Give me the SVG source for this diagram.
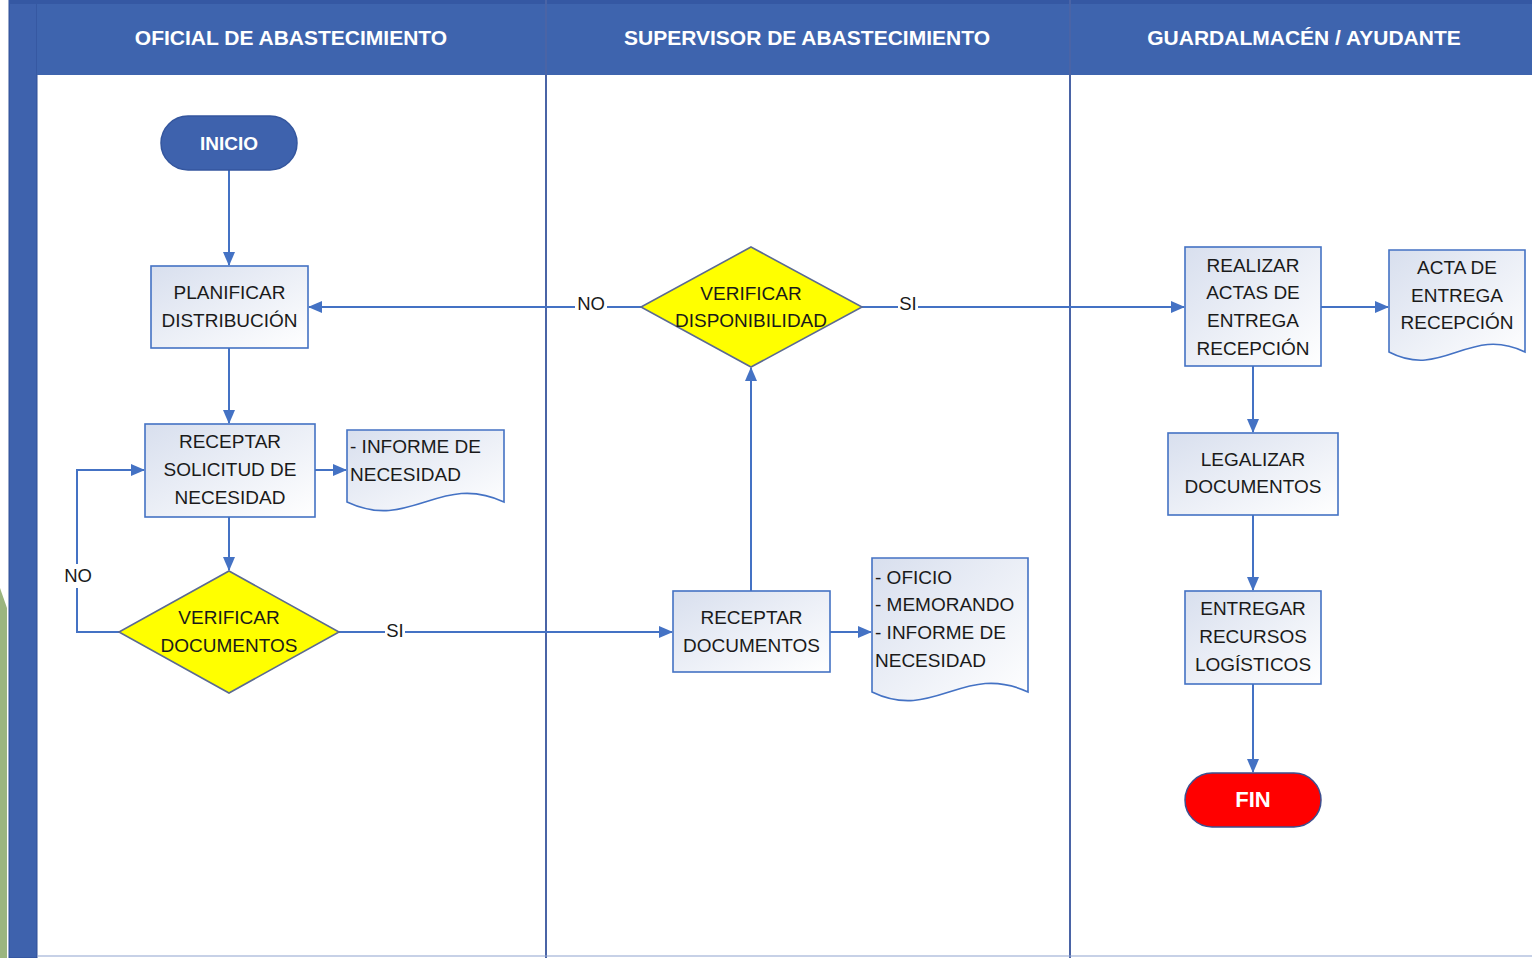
<svg xmlns="http://www.w3.org/2000/svg" width="1532" height="958" viewBox="0 0 1532 958">
<defs>
<linearGradient id="boxg" x1="0" y1="0" x2="1" y2="1">
<stop offset="0" stop-color="#D8DFEE"/>
<stop offset="1" stop-color="#FFFFFF"/>
</linearGradient>
<marker id="arr" viewBox="0 0 14 12" refX="13" refY="6" markerWidth="14" markerHeight="12" markerUnits="userSpaceOnUse" orient="auto">
<path d="M0,0 L14,6 L0,12 Z" fill="#4472C4"/>
</marker>
<style>
.hdr{font-family:"Liberation Sans",Arial,sans-serif;font-weight:bold;font-size:21px;fill:#FFFFFF;text-anchor:middle}
.t{font-family:"Liberation Sans",Arial,sans-serif;font-size:19px;fill:#1a1a1a;text-anchor:middle}
.tl{font-family:"Liberation Sans",Arial,sans-serif;font-size:19px;fill:#1a1a1a;text-anchor:start}
.lbl{font-family:"Liberation Sans",Arial,sans-serif;font-size:18.5px;fill:#1a1a1a;text-anchor:middle}
.term{font-family:"Liberation Sans",Arial,sans-serif;font-weight:bold;fill:#FFFFFF;text-anchor:middle}
.box{fill:url(#boxg);stroke:#4472C4;stroke-width:1.6}
.doc{fill:url(#boxg);stroke:#4472C4;stroke-width:1.6}
.dia{fill:#FFFF00;stroke:#5B6A92;stroke-width:1.6}
.con{fill:none;stroke:#4472C4;stroke-width:2}
.lane{stroke:#4A64A6;stroke-width:2}
</style>
</defs>

<g id="background">
<rect x="0" y="0" width="1532" height="958" fill="#FFFFFF"/>
<path d="M0,588 L7,608 L7,958 L0,958 Z" fill="#9BB57F"/>
<rect x="9" y="0" width="28" height="958" fill="#3E62AD" stroke="#2F4F96" stroke-width="1"/>
<rect x="37" y="0" width="1495" height="75" fill="#3E64AE"/>
<rect x="9" y="0" width="1523" height="4" fill="#3558A3"/>
<line x1="546" y1="0" x2="546" y2="958" class="lane"/>
<line x1="1070" y1="0" x2="1070" y2="958" class="lane"/>
<line x1="37" y1="956" x2="1532" y2="956" stroke="#8FA3CF" stroke-width="1"/>
</g>

<g id="headers">
<text class="hdr" x="291" y="45">OFICIAL DE ABASTECIMIENTO</text>
<text class="hdr" x="807" y="45">SUPERVISOR DE ABASTECIMIENTO</text>
<text class="hdr" x="1304" y="45">GUARDALMACÉN / AYUDANTE</text>
</g>

<g id="connectors">
<line class="con" x1="229" y1="170" x2="229" y2="265" marker-end="url(#arr)"/>
<line class="con" x1="229" y1="348" x2="229" y2="423" marker-end="url(#arr)"/>
<line class="con" x1="315" y1="470" x2="346" y2="470" marker-end="url(#arr)"/>
<line class="con" x1="229" y1="517" x2="229" y2="570" marker-end="url(#arr)"/>
<polyline class="con" points="119,632 77,632 77,470 144,470" marker-end="url(#arr)"/>
<line class="con" x1="339" y1="632" x2="672" y2="632" marker-end="url(#arr)"/>
<line class="con" x1="830" y1="632" x2="871" y2="632" marker-end="url(#arr)"/>
<line class="con" x1="751" y1="591" x2="751" y2="368" marker-end="url(#arr)"/>
<line class="con" x1="641" y1="307" x2="309" y2="307" marker-end="url(#arr)"/>
<line class="con" x1="862" y1="307" x2="1184" y2="307" marker-end="url(#arr)"/>
<line class="con" x1="1321" y1="307" x2="1388" y2="307" marker-end="url(#arr)"/>
<line class="con" x1="1253" y1="366" x2="1253" y2="432" marker-end="url(#arr)"/>
<line class="con" x1="1253" y1="515" x2="1253" y2="590" marker-end="url(#arr)"/>
<line class="con" x1="1253" y1="684" x2="1253" y2="772" marker-end="url(#arr)"/>
<rect x="63" y="564" width="30" height="24" fill="#FFFFFF"/>
<text class="lbl" x="78" y="582">NO</text>
<rect x="385" y="620" width="20" height="24" fill="#FFFFFF"/>
<text class="lbl" x="395" y="637">SI</text>
<rect x="575" y="295" width="32" height="24" fill="#FFFFFF"/>
<text class="lbl" x="591" y="310">NO</text>
<rect x="898" y="295" width="20" height="24" fill="#FFFFFF"/>
<text class="lbl" x="908" y="310">SI</text>
</g>

<g id="inicio">
<rect x="161" y="116" width="136" height="54" rx="27" ry="27" fill="#3E62AD" stroke="#34569E" stroke-width="1.5"/>
<text class="term" x="229" y="150" font-size="19">INICIO</text>
</g>

<g id="planificar">
<rect class="box" x="151" y="266" width="157" height="82"/>
<text class="t" x="229.5" y="299">PLANIFICAR</text>
<text class="t" x="229.5" y="327">DISTRIBUCIÓN</text>
</g>

<g id="receptar-solicitud">
<rect class="box" x="145" y="424" width="170" height="93"/>
<text class="t" x="230" y="448">RECEPTAR</text>
<text class="t" x="230" y="476">SOLICITUD DE</text>
<text class="t" x="230" y="504">NECESIDAD</text>
</g>

<g id="doc-informe">
<path class="doc" d="M347,430 H504 V502 C440,472 410,532 347,502 Z"/>
<text class="tl" x="350" y="453">- INFORME DE</text>
<text class="tl" x="350" y="481">NECESIDAD</text>
</g>

<g id="verificar-documentos">
<polygon class="dia" points="229,571 339,632 229,693 119,632"/>
<text class="t" x="229" y="624">VERIFICAR</text>
<text class="t" x="229" y="652">DOCUMENTOS</text>
</g>

<g id="receptar-documentos">
<rect class="box" x="673" y="591" width="157" height="81"/>
<text class="t" x="751.5" y="624">RECEPTAR</text>
<text class="t" x="751.5" y="652">DOCUMENTOS</text>
</g>

<g id="doc-oficio">
<path class="doc" d="M872,558 H1028 V692 C964,662 934,722 872,692 Z"/>
<text class="tl" x="875" y="584">- OFICIO</text>
<text class="tl" x="875" y="611">- MEMORANDO</text>
<text class="tl" x="875" y="639">- INFORME DE</text>
<text class="tl" x="875" y="667">NECESIDAD</text>
</g>

<g id="verificar-disponibilidad">
<polygon class="dia" points="751,247 862,307 751,367 641,307"/>
<text class="t" x="751" y="300">VERIFICAR</text>
<text class="t" x="751" y="327">DISPONIBILIDAD</text>
</g>

<g id="realizar-actas">
<rect class="box" x="1185" y="247" width="136" height="119"/>
<text class="t" x="1253" y="272">REALIZAR</text>
<text class="t" x="1253" y="299">ACTAS DE</text>
<text class="t" x="1253" y="327">ENTREGA</text>
<text class="t" x="1253" y="355">RECEPCIÓN</text>
</g>

<g id="doc-acta">
<path class="doc" d="M1389,250 H1525 V352 C1469,325 1443,380 1389,352 Z"/>
<text class="t" x="1457" y="274">ACTA DE</text>
<text class="t" x="1457" y="302">ENTREGA</text>
<text class="t" x="1457" y="329">RECEPCIÓN</text>
</g>

<g id="legalizar">
<rect class="box" x="1168" y="433" width="170" height="82"/>
<text class="t" x="1253" y="466">LEGALIZAR</text>
<text class="t" x="1253" y="493">DOCUMENTOS</text>
</g>

<g id="entregar">
<rect class="box" x="1185" y="591" width="136" height="93"/>
<text class="t" x="1253" y="615">ENTREGAR</text>
<text class="t" x="1253" y="643">RECURSOS</text>
<text class="t" x="1253" y="671">LOGÍSTICOS</text>
</g>

<g id="fin">
<rect x="1185" y="773" width="136" height="54" rx="27" ry="27" fill="#FF0000" stroke="#3D4F8F" stroke-width="1.5"/>
<text class="term" x="1253" y="807" font-size="22">FIN</text>
</g>
</svg>
